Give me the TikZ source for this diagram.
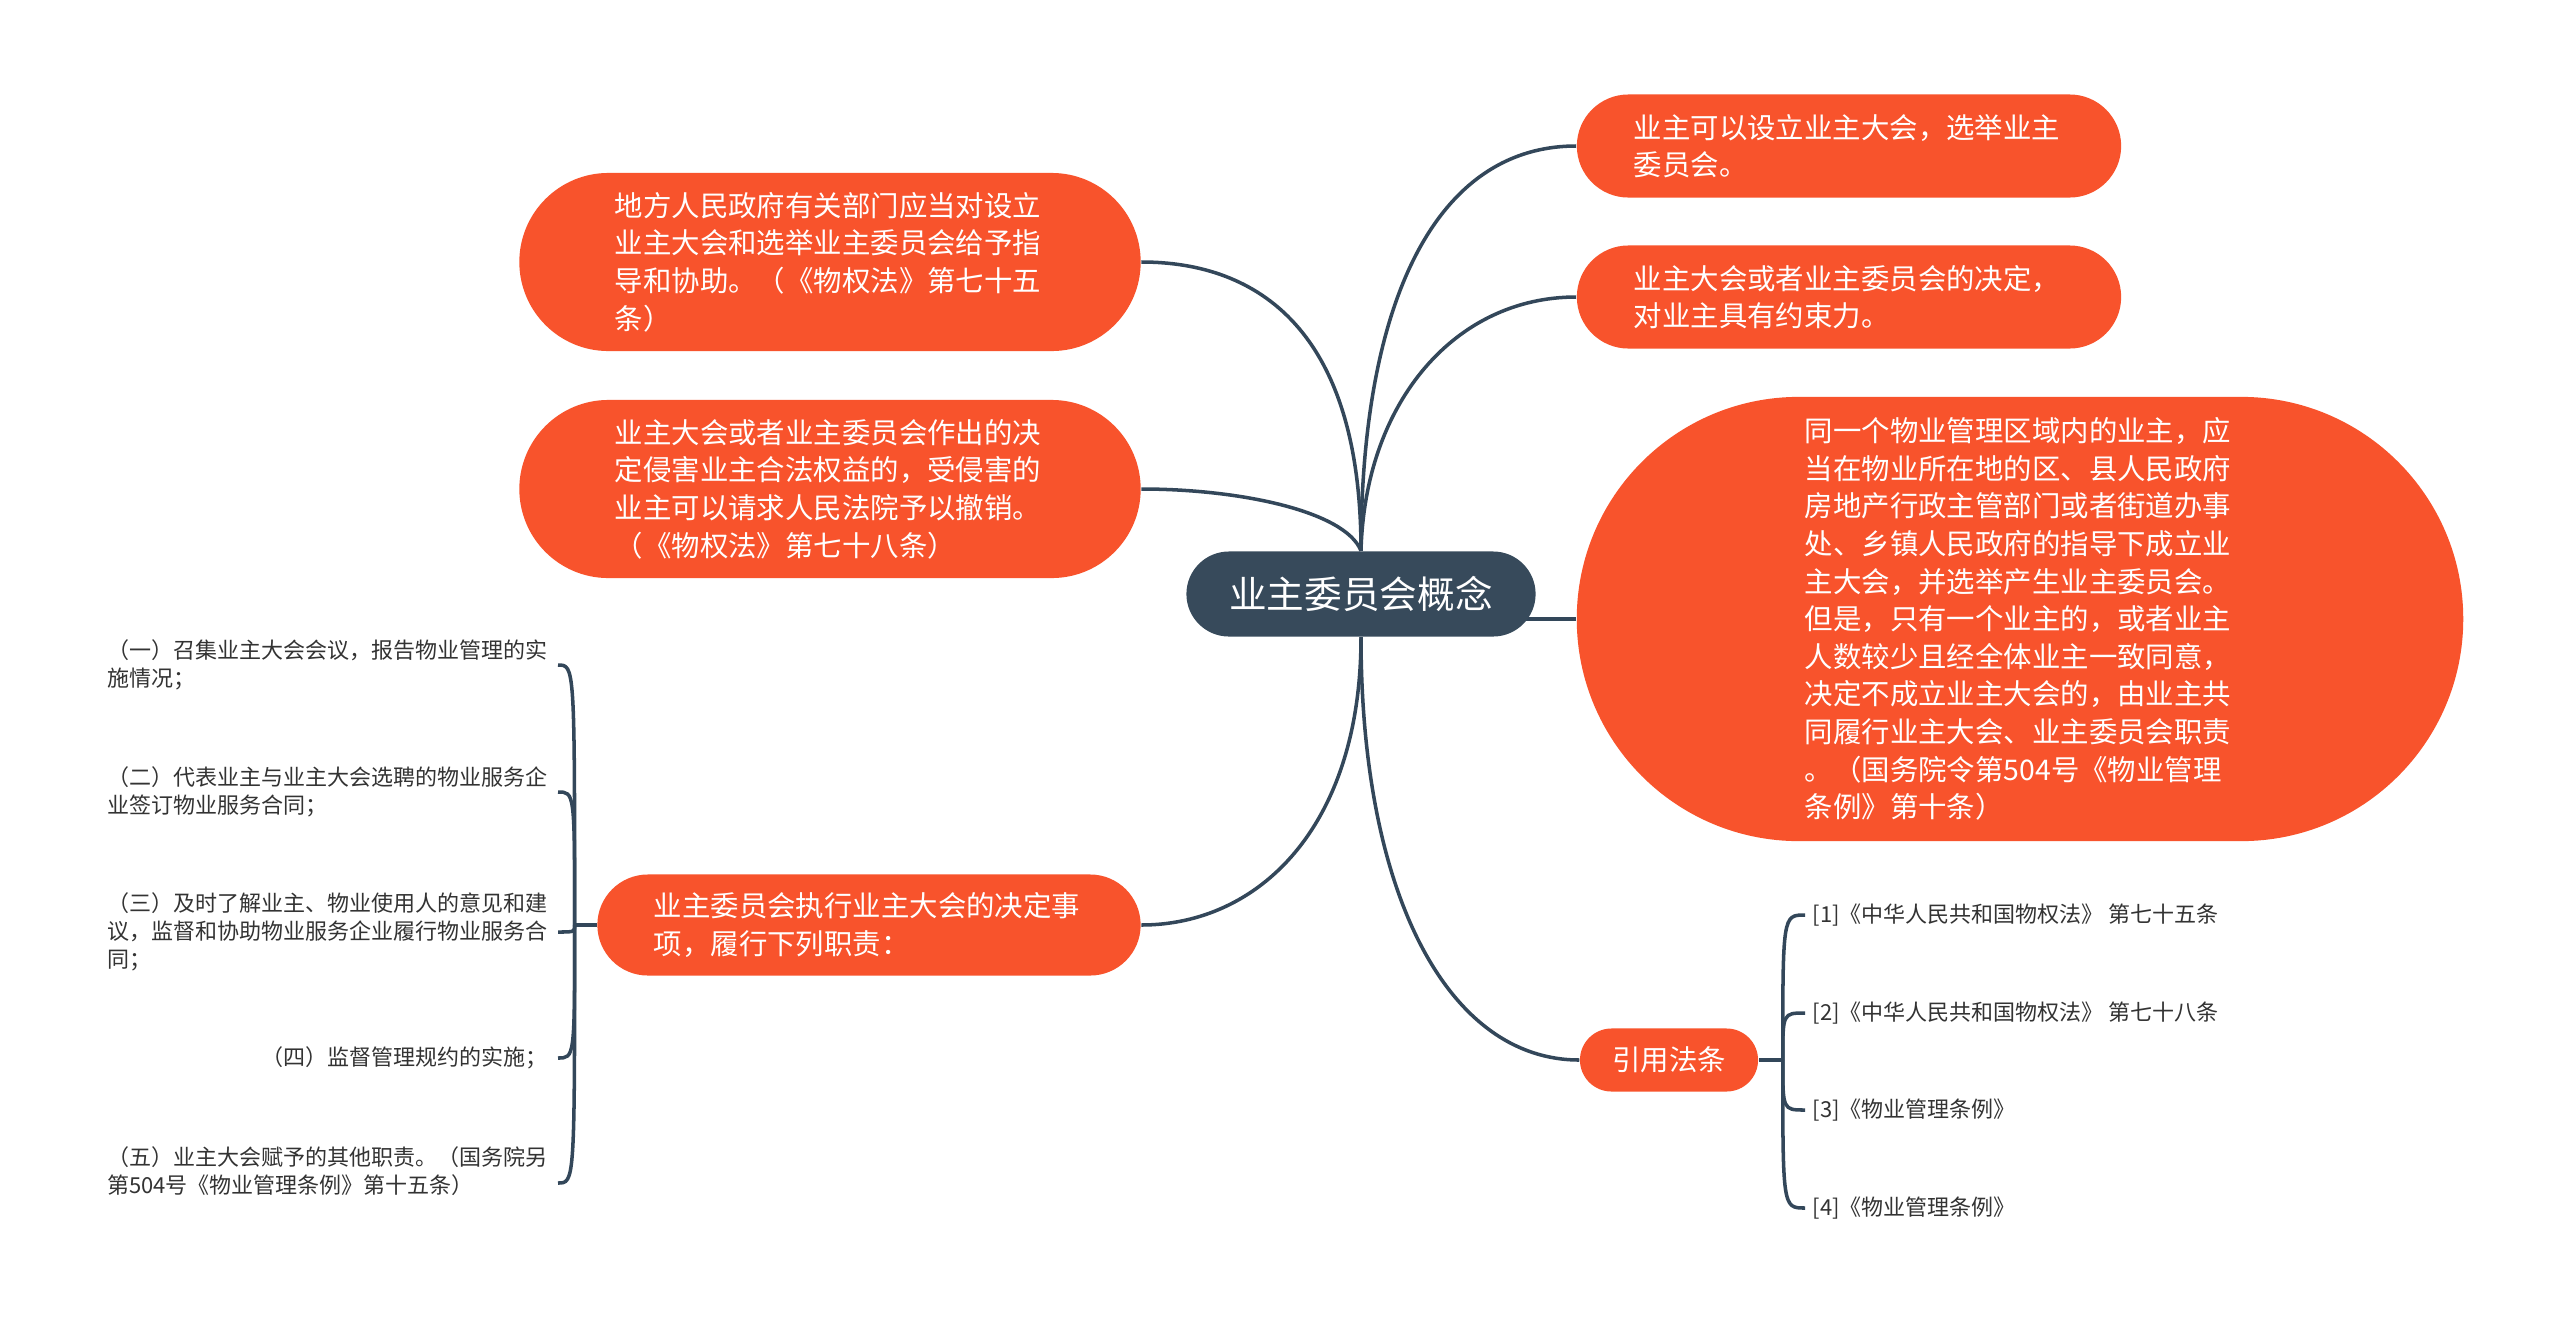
\documentclass[tikz,border=0pt]{standalone}
\usepackage{fontspec}
\setmainfont{Noto Sans CJK SC}
\usetikzlibrary{calc, backgrounds}
\definecolor{orj}{HTML}{F8532C}
\definecolor{slate}{HTML}{374A5B}
\definecolor{wire}{HTML}{33475A}
\definecolor{ink}{HTML}{333333}
\newcommand{\bodyfont}{\fontsize{8.08pt}{10.7pt}\selectfont}
\newcommand{\leaffont}{\fontsize{6.26pt}{7.97pt}\selectfont}
\newcommand{\rootfont}{\fontsize{10.7pt}{12pt}\selectfont}

\begin{document}
\begin{tikzpicture}[x=0.01cm, y=-0.01cm,
  topic/.style={fill=orj, text=white, font=\bodyfont, align=left, inner sep=0.1cm},
  leaf/.style={text=ink, font=\leaffont, align=left, inner sep=0.1cm},
  link/.style={draw=wire, line width=1pt}]
\useasboundingbox (0,0) rectangle (2560,1333);

\node (root) at (1361,594)[fill=slate, text=white, font=\rootfont, minimum width=3.49cm, minimum height=0.85cm, rounded corners=0.425cm] {业主委员会概念};

\node (a) at (830,262)[topic, text width=4.3cm, minimum width=6.21cm, minimum height=1.78cm, rounded corners=0.89cm] {地方人民政府有关部门应当对设立\\业主大会和选举业主委员会给予指\\导和协助。（《物权法》第七十五\\条）};
\node (b) at (830,489)[topic, text width=4.3cm, minimum width=6.21cm, minimum height=1.78cm, rounded corners=0.89cm] {业主大会或者业主委员会作出的决\\定侵害业主合法权益的，受侵害的\\业主可以请求人民法院予以撤销。\\（《物权法》第七十八条）};
\node (c) at (869,925)[topic, text width=4.3cm, minimum width=5.43cm, minimum height=1.01cm, rounded corners=0.505cm] {业主委员会执行业主大会的决定事\\项，履行下列职责：};

\node (r1) at (1849,146)[topic, text width=4.3cm, minimum width=5.44cm, minimum height=1.03cm, rounded corners=0.515cm] {业主可以设立业主大会，选举业主\\委员会。};
\node (r2) at (1849,297)[topic, text width=4.3cm, minimum width=5.44cm, minimum height=1.03cm, rounded corners=0.515cm] {业主大会或者业主委员会的决定，\\对业主具有约束力。};
\node (r3) at (2020,619)[topic, text width=4.3cm, minimum width=8.86cm, minimum height=4.44cm, rounded corners=2.22cm] {同一个物业管理区域内的业主，应\\当在物业所在地的区、县人民政府\\房地产行政主管部门或者街道办事\\处、乡镇人民政府的指导下成立业\\主大会，并选举产生业主委员会。\\但是，只有一个业主的，或者业主\\人数较少且经全体业主一致同意，\\决定不成立业主大会的，由业主共\\同履行业主大会、业主委员会职责\\。（国务院令第504号《物业管理\\条例》第十条）};
\node (ref) at (1669,1060)[topic, minimum width=1.78cm, minimum height=0.63cm, rounded corners=0.315cm] {引用法条};

\node (l1) at (558,665)[leaf, anchor=east] {（一）召集业主大会会议，报告物业管理的实\\施情况；};
\node (l2) at (558,792)[leaf, anchor=east] {（二）代表业主与业主大会选聘的物业服务企\\业签订物业服务合同；};
\node (l3) at (558,932)[leaf, anchor=east] {（三）及时了解业主、物业使用人的意见和建\\议，监督和协助物业服务企业履行物业服务合\\同；};
\node (l4) at (558,1058)[leaf, anchor=east] {（四）监督管理规约的实施；};
\node (l5) at (558,1171)[leaf, anchor=east] {（五）业主大会赋予的其他职责。（国务院另\\第504号《物业管理条例》第十五条）};

\node (k1) at (1805,915)[leaf, anchor=west, inner xsep=0.07cm] {[1]《中华人民共和国物权法》 第七十五条};
\node (k2) at (1805,1013)[leaf, anchor=west, inner xsep=0.07cm] {[2]《中华人民共和国物权法》 第七十八条};
\node (k3) at (1805,1110)[leaf, anchor=west, inner xsep=0.07cm] {[3]《物业管理条例》};
\node (k4) at (1805,1208)[leaf, anchor=west, inner xsep=0.07cm] {[4]《物业管理条例》};

\coordinate (lj) at ($(c.west)+(-22,0)$);
\coordinate (rj) at ($(ref.east)+(24,0)$);

\begin{scope}[on background layer]
\fill[white] (0,0) rectangle (2560,1333);
\draw[link] (root.north) .. controls ($(root.north)+(0,-220)$) and ($(a.east)+(117,0)$) .. (a.east);
\draw[link] (root.north) .. controls ($(root.north)+(-16,-40)$) and ($(b.east)+(97,0)$) .. (b.east);
\draw[link] (root.north) .. controls ($(root.north)+(0,-250)$) and ($(r1.west)+(-140,0)$) .. (r1.west);
\draw[link] (root.north) .. controls ($(root.north)+(4,-150)$) and ($(r2.west)+(-120,0)$) .. (r2.west);
\draw[link] (r3.west) -- (r3.west -| root.center);
\draw[link] (root.south) .. controls ($(root.south)+(0,190)$) and ($(c.east)+(117,0)$) .. (c.east);
\draw[link] (root.south) .. controls ($(root.south)+(0,260)$) and ($(ref.west)+(-130,0)$) .. (ref.west);
\draw[link] (c.west) -- (lj);
\foreach \n in {l1,l2,l3,l4}
  \draw[link] (lj) .. controls (lj |- \n.east) .. (\n.east);
\draw[link] (lj) .. controls (lj |- 0,1183) .. ([yshift=-0.12cm]l5.east);
\draw[link] (ref.east) -- (rj);
\foreach \n in {k1,k2,k3,k4}
  \draw[link] (rj) .. controls (rj |- \n.west) .. (\n.west);
\end{scope}
\end{tikzpicture}
\end{document}
